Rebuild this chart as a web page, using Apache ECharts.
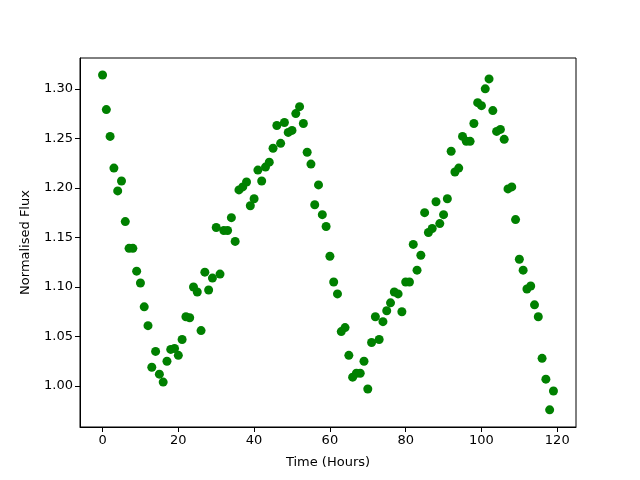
<!DOCTYPE html>
<html>
<head>
<meta charset="utf-8">
<script src="https://cdn.jsdelivr.net/npm/echarts@6/dist/echarts.min.js"></script>
<style>
  html, body { margin: 0; padding: 0; background: #fff; }
  #main { width: 640px; height: 480px; }
</style>
</head>
<body>
<div id="main"></div>
<script>
// hours of each observation
var hours = [
  0, 1, 2, 3, 4, 5, 6, 7, 8, 9, 10, 11, 12, 13, 14, 15, 16, 17, 18, 19,
  20, 21, 22, 23, 24, 25, 26, 27, 28, 29, 30, 31, 32, 33, 34, 35, 36, 37, 38, 39,
  40, 41, 42, 43, 44, 45, 46, 47, 48, 49, 50, 51, 52, 53, 54, 55, 56, 57, 58, 59,
  60, 61, 62, 63, 64, 65, 66, 67, 68, 69, 70, 71, 72, 73, 74, 75, 76, 77, 78, 79,
  80, 81, 82, 83, 84, 85, 86, 87, 88, 89, 90, 91, 92, 93, 94, 95, 96, 97, 98, 99,
  100, 101, 102, 103, 104, 105, 106, 107, 108, 109, 110, 111, 112, 113, 114, 115, 116, 117, 118, 119
];
// normalised flux readings
var flux = [
  1.314, 1.279, 1.252, 1.220, 1.197, 1.207, 1.166, 1.139, 1.139, 1.116,
  1.104, 1.080, 1.061, 1.019, 1.035, 1.012, 1.004, 1.025, 1.037, 1.038,
  1.031, 1.047, 1.070, 1.069, 1.100, 1.095, 1.056, 1.115, 1.097, 1.109,
  1.160, 1.113, 1.157, 1.157, 1.170, 1.146, 1.198, 1.201, 1.206, 1.182,
  1.189, 1.218, 1.207, 1.221, 1.226, 1.240, 1.263, 1.245, 1.266, 1.256,
  1.258, 1.275, 1.282, 1.265, 1.236, 1.224, 1.183, 1.203, 1.173, 1.161,
  1.131, 1.105, 1.093, 1.055, 1.059, 1.031, 1.009, 1.013, 1.013, 1.025,
  0.997, 1.044, 1.070, 1.047, 1.065, 1.076, 1.084, 1.095, 1.093, 1.075,
  1.105, 1.105, 1.143, 1.117, 1.132, 1.175, 1.155, 1.159, 1.186, 1.164,
  1.173, 1.189, 1.237, 1.216, 1.220, 1.252, 1.247, 1.247, 1.265, 1.286,
  1.283, 1.300, 1.310, 1.278, 1.257, 1.259, 1.249, 1.199, 1.201, 1.168,
  1.128, 1.117, 1.098, 1.101, 1.082, 1.070, 1.028, 1.007, 0.976, 0.995
];
var xTicks = [0, 20, 40, 60, 80, 100, 120];
var yTicks = [1.00, 1.05, 1.10, 1.15, 1.20, 1.25, 1.30];

var points = hours.map(function (h, i) { return [h, flux[i]]; });

var myChart = echarts.init(document.getElementById('main'));
var font = 'DejaVu Sans';

var option = {
  animation: false,
  grid: {
    left: 80, right: 64, top: 58, bottom: 53,
    show: true, borderColor: '#000', borderWidth: 1
  },
  xAxis: {
    type: 'value',
    min: -5.95, max: 124.95,
    name: 'Time (Hours)',
    nameLocation: 'middle',
    nameGap: 29,
    nameTextStyle: { color: '#000', fontFamily: font, fontSize: 13 },
    axisLine: { onZero: false, lineStyle: { color: '#000' } },
    axisTick: { show: true, length: 5, inside: false, customValues: xTicks, lineStyle: { color: '#000' } },
    axisLabel: { customValues: xTicks, color: '#000', fontFamily: font, fontSize: 13, margin: 7 },
    splitLine: { show: false }
  },
  yAxis: {
    type: 'value',
    min: 0.9587, max: 1.3311,
    name: 'Normalised Flux',
    nameLocation: 'middle',
    nameGap: 48,
    nameTextStyle: { color: '#000', fontFamily: font, fontSize: 13 },
    axisLine: { show: true, onZero: false, lineStyle: { color: '#000' } },
    axisTick: { show: true, length: 5, inside: false, customValues: yTicks, lineStyle: { color: '#000' } },
    axisLabel: {
      customValues: yTicks, color: '#000', fontFamily: font, fontSize: 13, margin: 7,
      formatter: function (v) { return v.toFixed(2); }
    },
    splitLine: { show: false }
  },
  series: [{
    type: 'scatter',
    data: points,
    symbolSize: 9,
    itemStyle: { color: '#008000', opacity: 1 }
  }]
};

myChart.setOption(option);
</script>
</body>
</html>
